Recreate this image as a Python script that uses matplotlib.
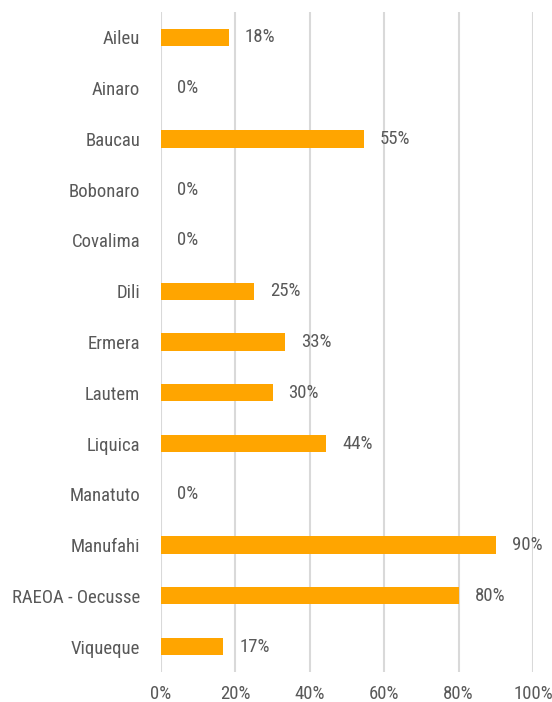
import matplotlib
matplotlib.use("Agg")
from matplotlib import pyplot as plt
from matplotlib import font_manager

municipalities = ['Aileu', 'Ainaro', 'Baucau', 'Bobonaro', 'Covalima', 'Dili',
                  'Ermera', 'Lautem', 'Liquica', 'Manatuto', 'Manufahi',
                  'RAEOA - Oecusse', 'Viqueque']
shares = [18.2, 0, 54.6, 0, 0, 25, 33.3, 30, 44.4, 0, 90, 80, 16.7]
xticks = [0, 20, 40, 60, 80, 100]

# condensed face if there is one, else plain Roboto
names = {f.name for f in font_manager.fontManager.ttflist}
fam = 'Roboto'
for cand in ['Roboto Condensed', 'Liberation Sans Narrow']:
    if cand in names:
        fam = cand
        break
plt.rcParams['font.family'] = [fam, 'DejaVu Sans']

txt = '#595959'
fs = 13.5
fig = plt.figure(figsize=(5.52, 7.02), dpi=100)
ax = fig.add_axes([0.2917, 0.0427, 0.6739, 0.9403])

ypos = range(len(municipalities))
ax.barh(ypos, shares, height=0.34, color='#FFA500', zorder=3)
for y, v in zip(ypos, shares):
    ax.annotate('%d%%' % round(v), (v, y), xytext=(11.5, 0), textcoords='offset points',
                va='center', ha='left', fontsize=fs, color=txt)

ax.set_xlim(0, 100)
ax.set_ylim(len(municipalities) - 0.5, -0.5)
ax.set_yticks(list(ypos))
ax.set_yticklabels(municipalities, fontsize=fs, color=txt)
ax.set_xticks(xticks)
ax.set_xticklabels(['%d%%' % t for t in xticks], fontsize=fs, color=txt)
ax.tick_params(length=0)
ax.tick_params(axis='y', pad=15)
ax.tick_params(axis='x', pad=9)
ax.grid(axis='x', color='#d9d9d9', linewidth=1.5, zorder=0)
for s in ax.spines.values():
    s.set_visible(False)

fig.savefig('out.png', dpi=100)
